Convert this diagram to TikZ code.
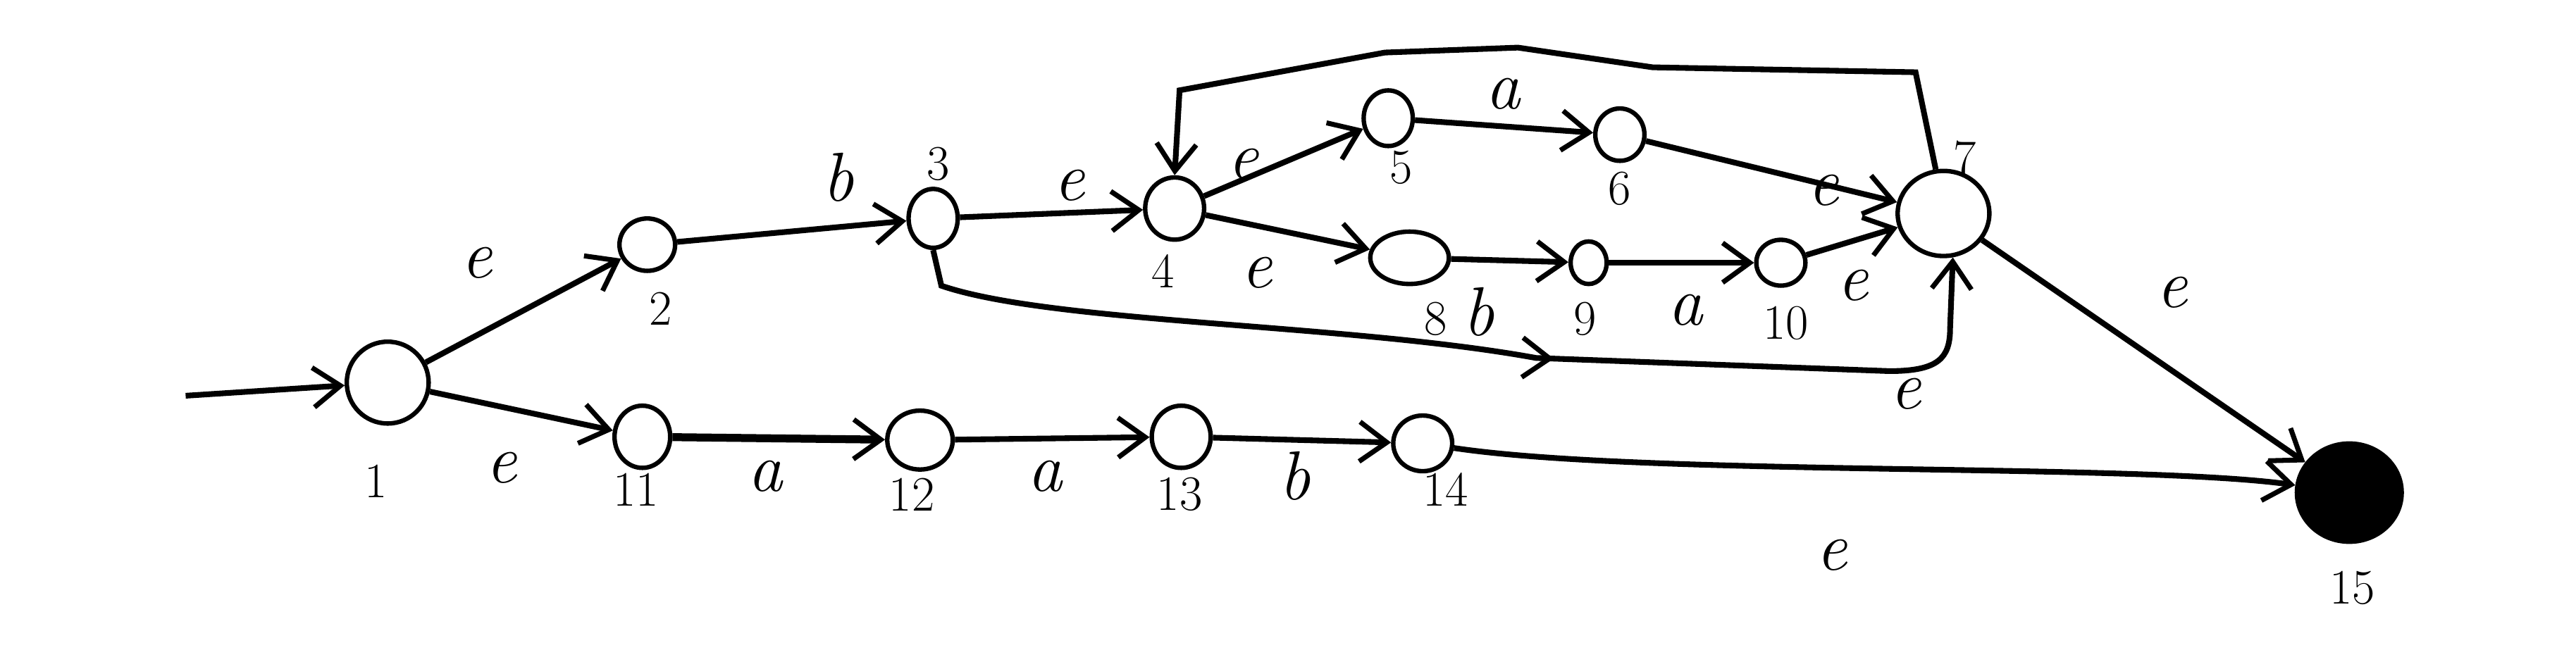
\documentclass[tikz,border=0pt]{standalone}
\usepackage{tikz}
\usetikzlibrary{arrows.meta,positioning,shapes.geometric,decorations.markings}
\tikzset{
  st/.style 2 args={draw,ellipse,line width=1.8pt,inner sep=0pt,minimum width=#1*0.6612pt,minimum height=#2*0.6612pt},
  fin/.style 2 args={st={#1}{#2},fill=black},
  arr/.style={-{Straight Barb[length=11pt,width=16pt,line width=2pt]},line width=2.3pt},
  midarr/.style={postaction={decorate},decoration={markings,mark=at position #1 with {\arrow{Straight Barb[length=11pt,width=16pt,line width=2pt]}}}},
  num/.style={font=\fontsize{20}{22}\selectfont},
  sym/.style={font=\fontsize{28}{30}\selectfont\itshape},
}

\begin{document}
\begin{tikzpicture}[x=0.02332cm,y=-0.02332cm]
        \useasboundingbox (0,0) rectangle (1568,403);
        % states
        \node[st={50}{50}] (s1) at (236,233) {};
        \node[st={34}{32}] (s2) at (394,149) {};
        \node[st={30}{36}] (s3) at (568,133) {};
        \node[st={36}{38}] (s4) at (715,127) {};
        \node[st={30}{34}] (s5) at (845,72) {};
        \node[st={30}{32}] (s6) at (986,82) {};
        \node[st={56}{52}] (s7) at (1183,130) {};
        \node[st={48}{32}] (s8) at (858,157) {};
        \node[st={22}{26}] (s9) at (967,160) {};
        \node[st={30}{28}] (s10) at (1084,160) {};
        \node[st={34}{38}] (s11) at (391,266) {};
        \node[st={40}{36}] (s12) at (560,268) {};
        \node[st={36}{38}] (s13) at (719,266) {};
        \node[st={36}{34}] (s14) at (866,270) {};
        \node[fin={64}{60}] (s15) at (1430,300) {};
        \coordinate (start) at (113,241);
        % state numbers
        \node[num] (n1) at (229,293) {1};
        \node[num] (n2) at (402,188) {2};
        \node[num] (n3) at (571,100) {3};
        \node[num] (n4) at (708,165) {4};
        \node[num] (n5) at (853,102) {5};
        \node[num] (n6) at (986,115) {6};
        \node[num] (n7) at (1196,96) {7};
        \node[num] (n8) at (874,194) {8};
        \node[num] (n9) at (965,194) {9};
        \node[num] (n10) at (1087,197) {10};
        \node[num] (n11) at (387,298) {11};
        \node[num] (n12) at (555,301) {12};
        \node[num] (n13) at (718,301) {13};
        \node[num] (n14) at (880,298) {14};
        \node[num] (n15) at (1432,358) {15};
        % transitions
        \draw[arr] (start) -- (s1);
        \draw[arr] (s1) -- (s2);
        \draw[arr] (s1) -- (s11);
        \draw[arr] (s2) -- (s3);
        \draw[arr] (s3) -- (s4);
        \draw[arr] (s4) -- (s5);
        \draw[arr] (s5) -- (s6);
        \draw[arr] (s6) -- (s7);
        \draw[arr] (s4) -- (s8);
        \draw[arr] (s8) -- (s9);
        \draw[arr] (s9) -- (s10);
        \draw[arr] (s10) -- (s7);
        \draw[arr] (s7) -- (s15);
        \draw[arr,line width=3.2pt] (s11) -- (s12);
        \draw[arr] (s12) -- (s13);
        \draw[arr] (s13) -- (s14);
        \draw[arr] (s14) .. controls (1000,290) and (1300,282) .. (s15);
        \draw[arr] (s7.100) -- (1166,44) -- (1006,41) -- (924,29) -- (843,32) -- (718,55) -- (s4.north);
        \draw[arr,midarr=0.57] (s3.south) -- (573,174) .. controls (640,197) and (820,197) .. (935,218) -- (1150,226) .. controls (1180,226) and (1187,218) .. (1187,200) -- (s7.282);
        % labels
        \node[sym] (l1) at (290,160) {e};
        \node[sym] (l2) at (305,285) {e};
        \node[sym] (l3) at (510,108) {b};
        \node[sym] (l4) at (651,113) {e};
        \node[sym] (l5) at (757,100) {e};
        \node[sym] (l6) at (915,57) {a};
        \node[sym] (l7) at (1110,116) {e};
        \node[sym] (l8) at (765,166) {e};
        \node[sym] (l9) at (900,190) {b};
        \node[sym] (l10) at (1026,189) {a};
        \node[sym] (l11) at (1128,174) {e};
        \node[sym] (l12) at (1160,240) {e};
        \node[sym] (l13) at (1322,178) {e};
        \node[sym] (l14) at (466,290) {a};
        \node[sym] (l15) at (636,290) {a};
        \node[sym] (l16) at (788,290) {b};
        \node[sym] (l17) at (1115,338) {e};
      \end{tikzpicture}
\end{document}
